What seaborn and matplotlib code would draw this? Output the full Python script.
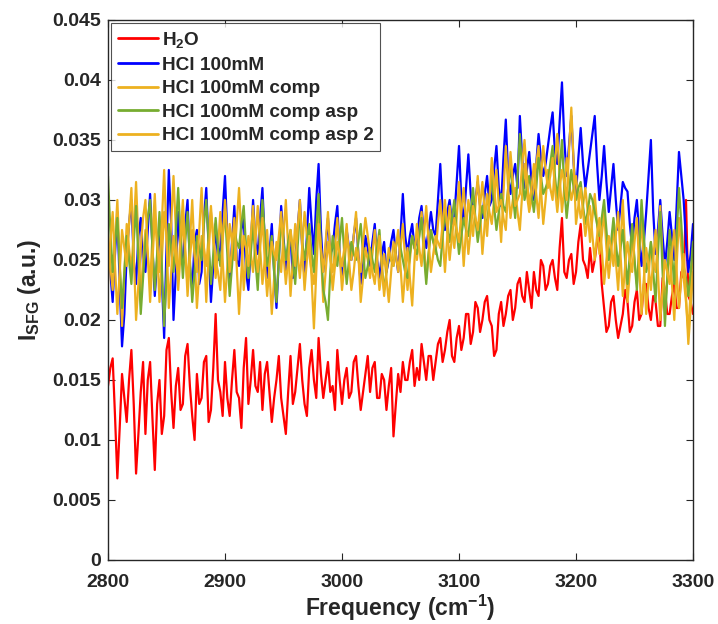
import numpy as np
import pandas as pd
import matplotlib
matplotlib.use("Agg")
import matplotlib.pyplot as plt
import seaborn as sns

# Frequency grid (cm^-1), 2 cm^-1 steps
freq = list(range(2800, 3301, 2))

# Intensities in units of 1e-4 a.u.
h2o = [145, 160, 168, 120, 68, 110, 155, 135, 115, 150, 175, 130, 72, 105, 140, 165,
       105, 150, 165, 118, 75, 130, 150, 105, 120, 175, 185, 140, 110, 145, 160, 125,
       130, 170, 180, 145, 120, 100, 155, 130, 135, 165, 170, 115, 125, 160, 205, 150,
       140, 120, 165, 135, 120, 150, 175, 140, 135, 110, 160, 185, 130, 150, 175, 145,
       140, 165, 125, 155, 165, 140, 115, 135, 150, 170, 135, 120, 105, 140, 170, 130,
       140, 160, 180, 150, 130, 120, 160, 175, 150, 135, 185, 155, 135, 150, 165, 140,
       145, 125, 175, 150, 130, 150, 160, 135, 140, 165, 170, 145, 125, 140, 155, 170,
       140, 160, 165, 135, 135, 155, 150, 125, 145, 160, 103, 130, 155, 140, 165, 150,
       150, 165, 175, 145, 160, 150, 180, 165, 150, 170, 170, 150, 165, 180, 185, 165,
       175, 190, 200, 170, 165, 185, 195, 175, 185, 205, 205, 180, 190, 215, 210, 190,
       200, 215, 220, 200, 195, 170, 175, 205, 215, 195, 205, 220, 225, 200, 210, 230,
       235, 220, 215, 240, 225, 210, 240, 225, 220, 250, 245, 225, 230, 245, 250, 235,
       225, 260, 285, 240, 235, 250, 255, 230, 240, 265, 280, 250, 245, 235, 260, 240,
       250, 265, 270, 230, 210, 190, 195, 215, 220, 200, 185, 195, 205, 225, 215, 190,
       195, 215, 225, 200, 205, 230, 230, 210, 200, 220, 215, 195, 195, 235, 225, 205,
       205, 220, 230, 210, 210, 240, 235, 300, 220, 215, 205]

hcl = [265, 240, 215, 255, 290, 230, 178, 205, 255, 280, 300, 250, 230, 270, 285, 245,
       240, 275, 305, 260, 220, 250, 280, 235, 185, 260, 325, 280, 200, 240, 290, 255,
       250, 280, 300, 245, 225, 265, 275, 230, 240, 285, 310, 260, 215, 245, 280, 250,
       260, 290, 320, 270, 230, 265, 295, 250, 245, 275, 285, 240, 225, 260, 300, 265,
       255, 285, 310, 265, 235, 255, 280, 240, 210, 250, 295, 270, 240, 255, 270, 235,
       250, 275, 300, 260, 235, 270, 310, 280, 255, 300, 330, 275, 240, 260, 285, 255,
       260, 280, 295, 255, 235, 250, 275, 260, 250, 270, 285, 255, 230, 245, 270, 260,
       245, 265, 280, 250, 235, 255, 265, 240, 250, 265, 275, 255, 240, 270, 305, 270,
       255, 270, 280, 260, 265, 285, 295, 270, 260, 275, 290, 275, 270, 300, 330, 290,
       275, 290, 300, 280, 285, 315, 345, 300, 280, 310, 338, 305, 290, 300, 315, 295,
       285, 305, 320, 295, 300, 325, 345, 310, 295, 335, 367, 320, 305, 320, 330, 310,
       370, 335, 310, 325, 340, 315, 300, 330, 355, 335, 320, 330, 345, 360, 373, 340,
       330, 365, 398, 350, 320, 345, 370, 330, 305, 335, 360, 330, 310, 325, 340, 355,
       370, 330, 300, 320, 345, 315, 290, 310, 330, 300, 275, 295, 315, 310, 307, 280,
       260, 285, 300, 270, 245, 265, 290, 320, 350, 290, 255, 275, 300, 270, 245, 265,
       290, 270, 250, 295, 340, 320, 300, 265, 240, 255, 280]

comp = [270, 245, 225, 265, 300, 250, 195, 240, 280, 260, 240, 275, 315, 265, 220, 250,
        275, 255, 230, 270, 305, 260, 215, 250, 290, 270, 245, 280, 320, 275, 225, 255,
        285, 255, 230, 265, 300, 255, 210, 240, 270, 260, 245, 270, 295, 265, 235, 260,
        290, 250, 215, 245, 280, 265, 250, 280, 310, 270, 225, 250, 270, 255, 240, 265,
        295, 260, 230, 250, 275, 240, 205, 235, 265, 255, 240, 270, 300, 260, 220, 250,
        280, 255, 235, 260, 290, 270, 255, 240, 230, 260, 295, 255, 215, 240, 265, 250,
        240, 260, 285, 255, 225, 245, 270, 260, 250, 270, 290, 255, 215, 235, 260, 250,
        235, 255, 275, 250, 225, 240, 255, 235, 215, 240, 265, 255, 240, 260, 280, 250,
        225, 250, 270, 260, 250, 270, 290, 265, 235, 255, 275, 265, 255, 280, 300, 270,
        240, 270, 295, 275, 260, 285, 315, 280, 245, 275, 300, 285, 270, 295, 320, 290,
        255, 280, 305, 290, 280, 300, 325, 295, 265, 305, 345, 310, 285, 300, 310, 290,
        275, 305, 330, 305, 290, 300, 310, 330, 345, 310, 280, 300, 325, 310, 300, 330,
        355, 320, 290, 310, 335, 315, 300, 310, 320, 300, 285, 295, 310, 290, 265, 285,
        305, 280, 255, 270, 290, 260, 235, 255, 280, 250, 225, 260, 300, 255, 215, 240,
        270, 250, 230, 255, 285, 245, 205, 235, 265, 250, 240, 265, 295, 250, 210, 235,
        260, 230, 200, 245, 285, 260, 235, 215, 190, 225, 260]

comp_asp = [320, 275, 240, 265, 285, 245, 210, 240, 270, 250, 230, 265, 295, 250, 205, 235,
            265, 285, 300, 260, 225, 255, 290, 245, 195, 235, 280, 260, 240, 275, 310, 270,
            235, 265, 290, 250, 215, 240, 270, 260, 250, 280, 300, 265, 230, 255, 285, 260,
            245, 270, 290, 255, 220, 245, 275, 265, 260, 280, 295, 260, 235, 255, 280, 250,
            225, 265, 300, 270, 245, 255, 270, 240, 215, 250, 285, 265, 250, 265, 275, 250,
            230, 260, 290, 265, 250, 265, 280, 255, 240, 275, 305, 260, 225, 215, 200, 240,
            270, 255, 245, 265, 285, 255, 230, 250, 265, 255, 250, 265, 280, 255, 235, 245,
            260, 250, 240, 260, 275, 245, 225, 240, 255, 250, 245, 260, 270, 260, 250, 240,
            235, 255, 270, 260, 255, 270, 285, 255, 230, 255, 275, 265, 260, 250, 245, 270,
            290, 275, 265, 285, 300, 275, 255, 270, 285, 275, 270, 290, 310, 285, 265, 280,
            295, 285, 280, 300, 320, 295, 275, 290, 305, 295, 290, 310, 330, 305, 285, 320,
            355, 325, 300, 310, 320, 305, 290, 310, 335, 320, 305, 310, 315, 330, 345, 320,
            300, 325, 350, 310, 285, 305, 325, 310, 300, 310, 315, 295, 280, 290, 305, 300,
            290, 280, 270, 285, 300, 275, 250, 265, 285, 265, 245, 260, 275, 250, 230, 255,
            280, 250, 225, 260, 300, 270, 240, 250, 265, 240, 215, 255, 290, 240, 195, 235,
            275, 255, 230, 270, 310, 280, 245, 235, 220, 240, 265]

comp_asp2 = [230, 265, 290, 245, 205, 240, 275, 260, 245, 280, 310, 255, 200, 230, 260, 285,
             300, 255, 215, 250, 285, 265, 240, 280, 325, 270, 210, 240, 270, 250, 235, 270,
             300, 260, 220, 250, 275, 255, 240, 275, 310, 260, 215, 255, 290, 270, 250, 240,
             225, 265, 300, 270, 240, 260, 285, 245, 205, 240, 270, 260, 245, 270, 295, 260,
             240, 260, 285, 250, 220, 245, 265, 255, 250, 270, 290, 255, 230, 250, 275, 260,
             245, 275, 300, 260, 225, 250, 270, 235, 193, 240, 280, 260, 240, 265, 290, 255,
             225, 245, 265, 255, 245, 260, 280, 250, 225, 240, 260, 250, 240, 265, 285, 270,
             255, 240, 230, 250, 270, 245, 220, 240, 260, 250, 245, 260, 275, 245, 215, 240,
             260, 235, 212, 250, 280, 260, 245, 270, 295, 265, 240, 255, 270, 265, 260, 280,
             300, 275, 250, 270, 285, 275, 265, 290, 310, 280, 255, 275, 295, 285, 275, 295,
             315, 290, 270, 300, 335, 310, 290, 295, 300, 285, 275, 310, 340, 315, 295, 300,
             305, 330, 350, 320, 295, 310, 330, 305, 285, 315, 345, 325, 310, 320, 335, 310,
             290, 310, 325, 315, 300, 340, 377, 330, 280, 295, 310, 290, 270, 285, 295, 270,
             250, 270, 285, 260, 230, 250, 270, 260, 245, 270, 290, 255, 220, 245, 265, 250,
             240, 265, 285, 245, 205, 235, 260, 245, 225, 250, 275, 240, 200, 225, 250, 240,
             230, 255, 275, 240, 210, 235, 255, 220, 180, 210, 240]

labels = ["H$_2$O", "HCl 100mM", "HCl 100mM comp",
          "HCl 100mM comp asp", "HCl 100mM comp asp 2"]
colors = ["#FF0000", "#0000FF", "#EDB120", "#77AC30", "#EDB120"]
series = [h2o, hcl, comp, comp_asp, comp_asp2]

for s in series:
    assert len(s) == len(freq), len(s)

frames = []
for lab, vals in zip(labels, series):
    frames.append(pd.DataFrame({"freq": freq,
                                "I": np.array(vals) * 1e-4,
                                "sample": lab}))
df = pd.concat(frames, ignore_index=True)

sns.set_style("ticks")
plt.rcParams["font.family"] = ["Liberation Sans", "DejaVu Sans"]
plt.rcParams["font.weight"] = "bold"
plt.rcParams["axes.labelweight"] = "bold"
plt.rcParams["mathtext.fontset"] = "custom"
plt.rcParams["mathtext.rm"] = "Liberation Sans:bold"
plt.rcParams["mathtext.it"] = "Liberation Sans:bold"
plt.rcParams["mathtext.bf"] = "Liberation Sans:bold"
plt.rcParams["mathtext.default"] = "rm"

fig = plt.figure(figsize=(7.18, 6.24), dpi=100)
ax = fig.add_axes([0.1504, 0.1026, 0.8148, 0.8654])

palette = dict(zip(labels, colors))
sns.lineplot(data=df, x="freq", y="I", hue="sample", hue_order=labels,
             palette=palette, estimator=None, sort=False, linewidth=1.6,
             ax=ax)

ax.set_xlim(2800, 3300)
ax.set_ylim(0, 0.045)
ax.set_xticks([2800, 2900, 3000, 3100, 3200, 3300])
yt = [0, 0.005, 0.01, 0.015, 0.02, 0.025, 0.03, 0.035, 0.04, 0.045]
ax.set_yticks(yt)
ax.set_yticklabels(["0", "0.005", "0.01", "0.015", "0.02", "0.025",
                    "0.03", "0.035", "0.04", "0.045"])
ax.tick_params(direction="in", top=True, right=True, length=5,
               width=0.8, labelsize=14, colors="#262626",
               labelcolor="#262626")
ax.tick_params(axis="x", pad=10)
ax.tick_params(axis="y", pad=5)
for lbl in ax.get_xticklabels() + ax.get_yticklabels():
    lbl.set_fontweight("bold")
for s in ax.spines.values():
    s.set_color("#262626")
    s.set_linewidth(1.0)

ax.set_xlabel("Frequency (cm$^{-1}$)", fontsize=16.5, fontweight="bold",
              color="#262626", labelpad=1.5)
ax.set_ylabel("I$_{SFG}$ (a.u.)", fontsize=16.5, fontweight="bold",
              color="#262626", labelpad=7)

leg = ax.legend(loc="upper left", bbox_to_anchor=(0.0, 1.0),
                prop={"weight": "bold", "size": 13.7},
                frameon=True, fancybox=False, edgecolor="#262626",
                handlelength=2.1, handletextpad=0.2, labelspacing=0.33,
                borderpad=0.35, borderaxespad=0.18)
leg.get_frame().set_linewidth(0.8)
for line in leg.get_lines():
    line.set_linewidth(2)

fig.savefig("out.png", dpi=100)
